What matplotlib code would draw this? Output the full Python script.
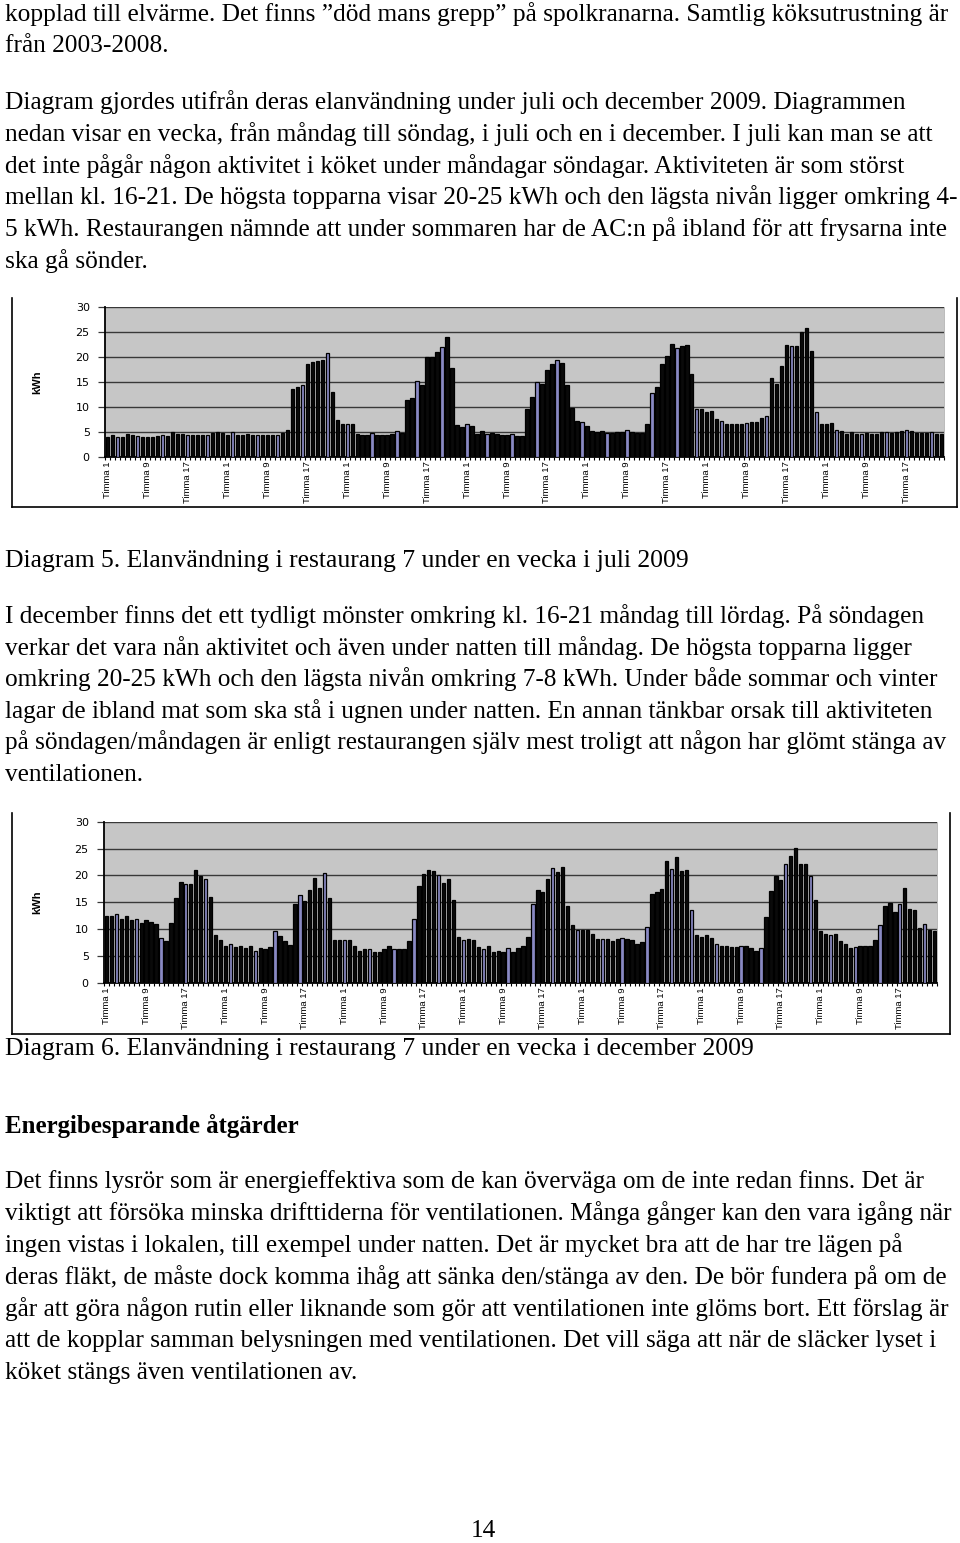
import matplotlib
matplotlib.use('Agg')
import matplotlib.pyplot as plt
from matplotlib.lines import Line2D
import numpy as np

# ---------------- data ----------------
juli = [3.9,4.3,3.9,3.9,4.5,4.4,4.1,3.9,3.9,4.0,4.2,4.4,4.2,5.0,4.6,4.5,4.3,4.4,4.4,4.4,4.4,4.8,4.9,4.8,
        4.4,4.9,4.4,4.4,4.6,4.3,4.4,4.3,4.3,4.3,4.4,4.8,5.4,13.6,13.9,14.4,18.5,19.0,19.1,19.4,20.8,12.9,7.4,6.5,
        6.5,6.6,4.6,4.4,4.4,4.7,4.3,4.4,4.4,4.6,5.2,4.7,11.3,11.7,15.1,14.3,19.9,19.9,21.0,22.0,23.9,17.7,6.4,6.0,
        6.5,6.1,4.5,5.1,4.5,4.8,4.5,4.4,4.3,4.5,4.2,4.1,9.6,11.9,14.9,14.6,17.3,18.6,19.4,18.8,14.3,9.8,7.1,7.0,
        6.1,5.1,4.9,5.1,4.8,4.8,4.9,5.0,5.3,5.0,4.8,4.8,6.6,12.8,14.0,18.5,20.1,22.5,21.8,22.2,22.4,16.6,9.6,9.6,
        8.9,9.1,7.5,7.1,6.6,6.6,6.6,6.6,6.7,6.9,6.9,7.7,8.1,15.8,14.5,18.2,22.4,22.1,22.1,24.9,25.8,21.2,9.0,6.6,
        6.5,6.8,5.3,5.1,4.6,4.9,4.6,4.5,4.7,4.6,4.6,4.9,4.9,4.8,5.0,5.1,5.3,5.1,4.7,4.7,4.7,4.9,4.6,4.6]

december = [12.4,12.5,12.8,11.8,12.4,11.7,11.8,11.1,11.7,11.4,10.9,8.4,7.8,11.1,15.7,18.8,18.3,18.3,21.0,19.9,19.4,15.9,8.9,8.0,
            6.8,7.3,6.7,6.8,6.4,6.9,5.9,6.4,6.2,6.7,9.7,8.7,7.7,7.1,14.6,16.3,15.3,17.3,19.6,17.6,20.4,15.8,7.9,7.9,
            7.9,7.9,6.9,6.0,6.3,6.3,5.7,5.7,6.2,6.8,6.3,6.3,6.2,7.7,11.8,18.0,20.3,21.0,20.8,20.1,18.6,19.3,15.5,8.5,
            7.9,8.2,8.0,6.7,6.3,6.8,5.8,6.0,5.8,6.4,5.8,6.4,6.8,8.5,14.7,17.3,16.9,19.4,21.4,20.6,21.5,14.2,10.8,9.9,
            9.8,9.9,9.1,8.1,8.1,8.1,7.7,8.1,8.3,8.2,8.0,7.2,7.5,10.3,16.6,16.9,17.4,22.6,21.1,23.5,20.9,21.0,13.6,8.9,
            8.5,8.9,8.3,7.2,6.9,6.9,6.6,6.6,6.9,6.9,6.5,6.0,6.4,12.2,17.0,19.9,19.1,22.1,23.6,25.1,22.2,22.2,19.8,15.5,
            9.7,9.0,8.9,9.0,7.7,7.2,6.4,6.6,6.9,6.9,6.9,7.9,10.7,14.3,14.8,13.2,14.7,17.7,13.7,13.5,10.2,11.0,9.9,9.6]

hour_labels = ["Timma %d" % h for h in range(1, 25)] * 7
y_ticks = [0, 5, 10, 15, 20, 25, 30]
y_label = "kWh"

text_top = [
    "kopplad till elvärme. Det finns ”död mans grepp” på spolkranarna. Samtlig köksutrustning är",
    "från 2003-2008.",
    "Diagram gjordes utifrån deras elanvändning under juli och december 2009. Diagrammen",
    "nedan visar en vecka, från måndag till söndag, i juli och en i december. I juli kan man se att",
    "det inte pågår någon aktivitet i köket under måndagar söndagar. Aktiviteten är som störst",
    "mellan kl. 16-21. De högsta topparna visar 20-25 kWh och den lägsta nivån ligger omkring 4-",
    "5 kWh. Restaurangen nämnde att under sommaren har de AC:n på ibland för att frysarna inte",
    "ska gå sönder.",
]
caption5 = "Diagram 5. Elanvändning i restaurang 7 under en vecka i juli 2009"
text_mid = [
    "I december finns det ett tydligt mönster omkring kl. 16-21 måndag till lördag. På söndagen",
    "verkar det vara nån aktivitet och även under natten till måndag. De högsta topparna ligger",
    "omkring 20-25 kWh och den lägsta nivån omkring 7-8 kWh. Under både sommar och vinter",
    "lagar de ibland mat som ska stå i ugnen under natten. En annan tänkbar orsak till aktiviteten",
    "på söndagen/måndagen är enligt restaurangen själv mest troligt att någon har glömt stänga av",
    "ventilationen.",
]
caption6 = "Diagram 6. Elanvändning i restaurang 7 under en vecka i december 2009"
heading = "Energibesparande åtgärder"
text_bottom = [
    "Det finns lysrör som är energieffektiva som de kan överväga om de inte redan finns. Det är",
    "viktigt att försöka minska drifttiderna för ventilationen. Många gånger kan den vara igång när",
    "ingen vistas i lokalen, till exempel under natten. Det är mycket bra att de har tre lägen på",
    "deras fläkt, de måste dock komma ihåg att sänka den/stänga av den. De bör fundera på om de",
    "går att göra någon rutin eller liknande som gör att ventilationen inte glöms bort. Ett förslag är",
    "att de kopplar samman belysningen med ventilationen. Det vill säga att när de släcker lyset i",
    "köket stängs även ventilationen av.",
]
page_number = "14"

# ---------------- figure ----------------
W, H = 960, 1543
fig = plt.figure(figsize=(W / 100, H / 100), dpi=100)
fig.patch.set_facecolor('white')
renderer = fig.canvas.get_renderer()
SERIF = ['Liberation Serif', 'DejaVu Serif']
SANS = ['Liberation Sans', 'DejaVu Sans']


def fx(x):
    return x / W


def fy(y):
    return 1 - y / H


def text_block(lines, baselines, ref_width, ref_idx=0, weight='normal', x0=5, base=16):
    t = fig.text(fx(x0), fy(baselines[0]), lines[ref_idx], fontsize=base,
                 family=SERIF, weight=weight)
    w = t.get_window_extent(renderer).width
    size = base * ref_width / w
    t.remove()
    for line, b in zip(lines, baselines):
        fig.text(fx(x0), fy(b), line, fontsize=size, family=SERIF, weight=weight,
                 va='baseline', ha='left', color='black')
    return size


def frame(left, top, right, bottom):
    lw = 1.2
    for xs, ys in [((left, left), (top, bottom)),
                   ((left, right), (bottom, bottom)),
                   ((right, right), (top, bottom))]:
        fig.add_artist(Line2D([fx(v) for v in xs], [fy(v) for v in ys],
                              transform=fig.transFigure, color='black', lw=lw))


def chart(l, t, r, b, vals):
    ax = fig.add_axes([fx(l), fy(b), fx(r - l), (b - t) / H])
    x = np.arange(len(vals))
    ax.set_facecolor('#c6c6c6')
    # dark bars, with the occasional lavender fill seen in the scanned original
    fills = ['#8a8ac4' if (i % 14) in (2, 6, 11) else '#0a0a0a' for i in x]
    ax.bar(x, vals, width=0.68, color=fills, edgecolor='black', linewidth=0.9, zorder=3)
    ax.set_xlim(-0.5, len(vals) - 0.5)
    ax.set_ylim(0, 30)
    ax.set_yticks(y_ticks)
    ax.set_yticklabels([str(v) for v in y_ticks], family='DejaVu Sans', fontsize=8)
    ax.yaxis.grid(True, color='#383838', linewidth=1.0)
    ax.set_axisbelow(True)
    ax.set_xticks(x[::8])
    ax.set_xticklabels(hour_labels[::8], rotation=90, fontsize=6.8, family=SANS)
    ax.set_xticks(np.arange(-0.5, len(vals), 1.0), minor=True)
    ax.tick_params(axis='x', which='major', length=0, pad=3.5)
    ax.tick_params(axis='x', which='minor', length=2.5, width=0.8, color='black')
    ax.tick_params(axis='y', length=5, width=0.9, pad=6, color='#383838')
    ax.spines['top'].set_visible(False)
    ax.spines['right'].set_color('#b0b0b0')
    ax.spines['right'].set_linewidth(0.6)
    ax.spines['left'].set_linewidth(1.3)
    ax.spines['bottom'].set_linewidth(1.3)
    ax.set_ylabel(y_label, fontsize=8, weight='bold', family=SANS)
    ax.yaxis.set_label_coords((42 - l) / (r - l), 0.5)
    return ax


# top paragraph
text_block(text_top, [20.7, 52.2, 109.3, 141, 172.7, 204.4, 236, 267.7], 943)

# chart 1
frame(11.5, 298, 957, 507)
chart(105, 306.7, 944, 456.7, juli)
text_block([caption5], [567], 683)

# middle paragraph
text_block(text_mid, [623, 654.6, 686.2, 717.8, 749.4, 781], 919)

# chart 2
frame(11.5, 813, 950, 1034)
chart(104, 821.7, 937, 982.7, december)
text_block([caption6], [1055], 748)

# heading
text_block([heading], [1133], 295, weight='bold')

# bottom paragraph
size = text_block(text_bottom, [1188, 1220, 1252, 1284, 1316, 1347, 1379], 920)

fig.text(fx(483), fy(1537), page_number, fontsize=size, family=SERIF, ha='center', va='baseline')

fig.savefig('out.png', dpi=100)
